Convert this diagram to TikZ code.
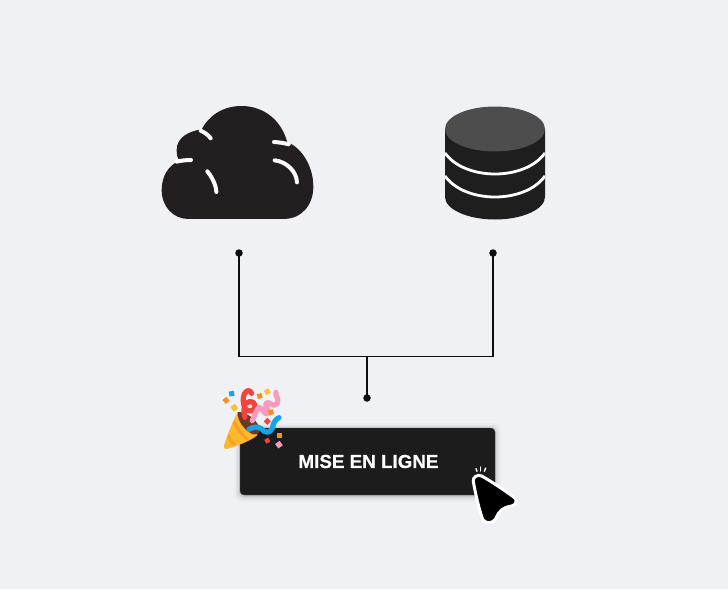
\documentclass[tikz,border=0pt]{standalone}
\usepackage{fontspec}
\setmainfont{Liberation Sans}[BoldFeatures={FakeBold=0.5}]
\definecolor{bg}{HTML}{F0F1F5}
\definecolor{ink}{HTML}{231F20}
\definecolor{dbdark}{HTML}{1E1E1E}
\definecolor{dbtop}{HTML}{4D4D4D}
\definecolor{wire}{HTML}{0D0D14}
\definecolor{btn}{HTML}{1C1C1C}
\definecolor{cone}{HTML}{FDB92B}
\definecolor{conedark}{HTML}{F9A024}
\definecolor{popbrown}{HTML}{6D3A2A}
\definecolor{popred}{HTML}{F4433C}
\definecolor{poppink}{HTML}{F69AC0}
\definecolor{popblue}{HTML}{14A5E8}
\definecolor{poporange}{HTML}{FB8C1E}
\definecolor{popyellow}{HTML}{FDC02F}
\tikzset{
  wireline/.style={draw=wire,line width=1.35pt},
  dotnode/.style={circle,fill=wire,inner sep=0pt,minimum size=7.5pt},
  gleam/.style={draw=white,line width=4pt,line cap=round},
  band/.style={draw=white,line width=2.8pt},
  buttonbox/.style={rectangle,rounded corners=4pt,fill=btn,draw=black!70,line width=.4pt,
    minimum width=255pt,minimum height=67pt,inner sep=0pt},
  buttontext/.style={text=white,font=\bfseries\fontsize{18.8}{20}\selectfont},
  spark/.style={draw=white,line width=1.4pt,line cap=round},
  streamer/.style={line width=5.2pt,line cap=round,line join=round},
  bit/.style={inner sep=0pt,minimum size=5pt,rectangle}
}
\begin{document}
\begin{tikzpicture}[x=1pt,y=-1pt]
\useasboundingbox (0,0) rectangle (728,589);
\fill[bg] (0,0) rectangle (728,589);

% cloud (zoom coordinates: x=150+u/3, y=95+v/3)
\begin{scope}[shift={(150,95)},x=.3333pt,y=-.3333pt]
\fill[ink] (115,372) -- (400,372)
  .. controls (455,372) and (490,330) .. (490,275)
  .. controls (490,200) and (440,148) .. (412,143)
  .. controls (395,75) and (340,33) .. (275,33)
  .. controls (215,33) and (175,65) .. (155,103)
  .. controls (120,108) and (80,125) .. (80,165)
  .. controls (80,180) and (82,190) .. (88,198)
  .. controls (55,210) and (35,245) .. (35,285)
  .. controls (35,335) and (70,372) .. (115,372) -- cycle;
\draw[gleam] (152,107) .. controls (165,113) and (175,120) .. (182,130);
\draw[gleam] (372,141) .. controls (388,142) and (402,144) .. (416,148);
\draw[gleam] (80,200) .. controls (92,197) and (108,195) .. (123,195);
\draw[gleam] (374,196) .. controls (410,200) and (440,230) .. (441,262);
\draw[gleam] (172,229) .. controls (185,245) and (198,268) .. (199,291);
\end{scope}

% database
\fill[dbdark] (445,129) -- (445,197)
  .. controls (445,209) and (467,219.5) .. (495,219.5)
  .. controls (523,219.5) and (545,209) .. (545,197) -- (545,129) -- cycle;
\begin{scope}
\clip (445,120) rectangle (545,225);
\draw[band] (445,153) .. controls (455,167) and (475,174) .. (495,174) .. controls (515,174) and (535,167) .. (545,153);
\draw[band] (445,176) .. controls (455,190) and (475,197) .. (495,197) .. controls (515,197) and (535,190) .. (545,176);
\end{scope}
\fill[dbtop] (495,129) ellipse[x radius=50,y radius=22.5];

% button shadow
\foreach \g/\o in {6/.02,4/.03,2.5/.05,1.2/.07}{
  \fill[black,opacity=\o,rounded corners=6pt] (240-\g,428-\g+1) rectangle (495+\g,495+\g+1);
}

% connectors
\node[dotnode] (cloudpin) at (239,253) {};
\node[dotnode] (dbpin) at (493,253) {};
\node[dotnode] (btnpin) at (367,398) {};
\coordinate (join) at (367,356.3);
\draw[wireline] (cloudpin.center) |- (join) -| (dbpin.center);
\draw[wireline] (join) -- (btnpin.center);

% button
\node[buttonbox] (button) at (367.5,461.5) {};
\node[buttontext] (label) at (368.5,461.5) {MISE EN LIGNE};

% party popper (zoom coordinates: x=215+u/3, y=380+v/3)
\begin{scope}[shift={(215,380)},x=.3333pt,y=-.3333pt]
\fill[cone] (68,97) .. controls (50,130) and (35,170) .. (27,197)
  .. controls (25,207) and (32,209) .. (42,205)
  .. controls (75,195) and (110,180) .. (128,165) -- cycle;
\fill[conedark] (58,120) .. controls (70,143) and (85,163) .. (103,178) -- (96,182)
  .. controls (78,168) and (63,150) .. (54,130) -- cycle;
\fill[conedark] (42,160) .. controls (47,173) and (54,183) .. (64,193) -- (56,197)
  .. controls (46,189) and (41,180) .. (38,171) -- cycle;
\fill[popbrown] (68,96) .. controls (90,95) and (125,115) .. (134,145)
  .. controls (136,160) and (128,165) .. (115,163)
  .. controls (90,155) and (65,120) .. (68,96) -- cycle;
\draw[popred,streamer] (110,40) .. controls (106,30) and (95,28) .. (88,42)
  .. controls (83,55) and (84,68) .. (88,80)
  .. controls (95,100) and (122,96) .. (120,76)
  .. controls (118,60) and (92,60) .. (88,80)
  .. controls (86,92) and (86,102) .. (90,112);
\draw[poppink,streamer] (112,122) .. controls (118,105) and (125,90) .. (132,82)
  .. controls (145,85) and (150,108) .. (158,100)
  .. controls (165,90) and (145,75) .. (155,68)
  .. controls (165,65) and (175,85) .. (187,70)
  .. controls (193,55) and (180,48) .. (183,37);
\draw[popblue,streamer] (102,148) .. controls (115,140) and (130,138) .. (140,147)
  .. controls (150,160) and (165,160) .. (172,145)
  .. controls (175,130) and (180,118) .. (192,113);
\node[bit,fill=poporange,rotate=40] (b1) at (33,61) {};
\node[bit,fill=popblue,rotate=10] (b2) at (50,41) {};
\node[bit,fill=popyellow,rotate=35,minimum size=5.5pt] (b3) at (58,83) {};
\node[bit,fill=poporange,rotate=15] (b4) at (134,48) {};
\node[bit,fill=popyellow,rotate=30] (b5) at (157,35) {};
\node[bit,fill=poporange,rotate=20] (b6) at (168,97) {};
\node[bit,fill=popred,rotate=45] (b7) at (157,124) {};
\node[bit,fill=popred,rotate=30,minimum size=4.5pt] (b8) at (157,182) {};
\node[bit,fill=poporange] (b9) at (193,168) {};
\node[bit,fill=poppink,rotate=35,minimum size=5.5pt] (b10) at (192,194) {};
\end{scope}

% cursor (zoom coordinates: x=440+u/3, y=420+v/3)
\begin{scope}[shift={(440,420)},x=.3333pt,y=-.3333pt]
\draw[spark] (108,146) -- (111,154);
\draw[spark] (122,141) -- (122,153);
\draw[spark] (137,144) -- (133,154);
\path[fill=black,draw=white,line width=3pt,line join=round]
  (100,185) .. controls (97,172) and (112,162) .. (125,168)
  .. controls (160,188) and (195,212) .. (225,234)
  .. controls (232,243) and (228,255) .. (215,258)
  .. controls (190,262) and (178,270) .. (168,295)
  .. controls (160,312) and (135,312) .. (128,298)
  .. controls (115,262) and (107,222) .. (100,185) -- cycle;
\end{scope}
\end{tikzpicture}
\end{document}
